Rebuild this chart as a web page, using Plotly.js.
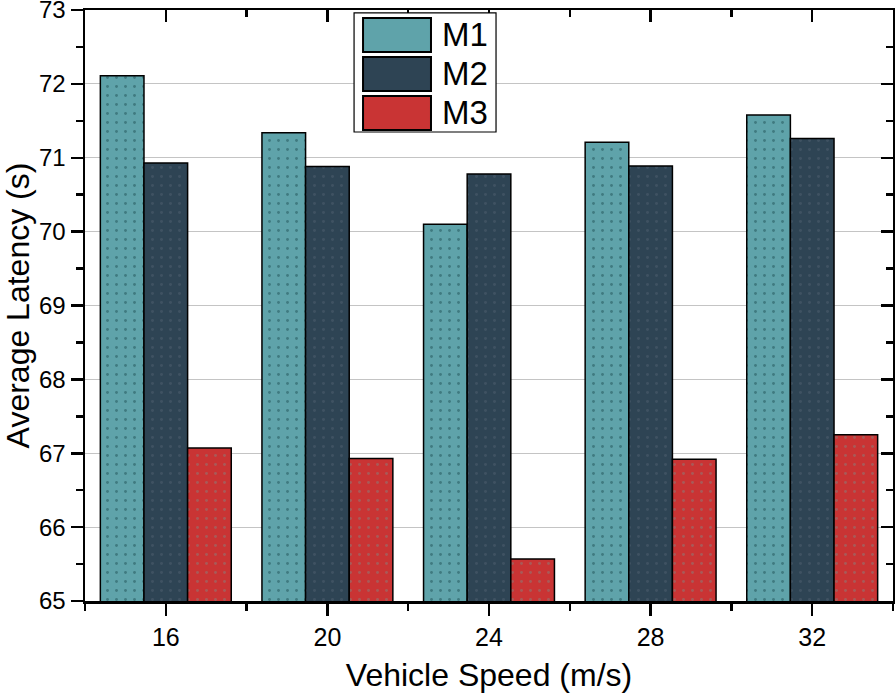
<!DOCTYPE html>
<html>
<head>
<meta charset="utf-8">
<script src="https://cdn.plot.ly/plotly-3.0.1.min.js"></script>
<style>html,body{margin:0;padding:0;background:#fff;} #chart{width:895px;height:697px;}</style>
</head>
<body>
<div id="chart"></div>
<script>
// Data
const speeds = [16, 20, 24, 28, 32];
const seriesNames = ['M1', 'M2', 'M3'];
const m1 = [72.11, 71.34, 70.10, 71.21, 71.58];
const m2 = [70.93, 70.88, 70.78, 70.89, 71.26];
const m3 = [67.07, 66.93, 65.57, 66.92, 67.25];
const xTitle = 'Vehicle Speed (m/s)';
const yTitle = 'Average Latency (s)';

const colors = ['#5fa3aa', '#2e4454', '#c93434'];
const dotColors = ['#3f7a80', '#3f5262', '#a85a58'];
const values = [m1, m2, m3];
const FONT = 'Liberation Sans, Arial, sans-serif';

const traces = values.map((v, i) => ({
  type: 'bar',
  x: speeds,
  y: v,
  name: seriesNames[i],
  marker: {
    color: colors[i],
    line: {color: '#000', width: 1.5},
    pattern: {shape: '.', fgcolor: dotColors[i], bgcolor: colors[i], size: 9, solidity: 0.08}
  },
  showlegend: false
}));
// empty trace to create the mirrored top/right axes
traces.push({type: 'scatter', x: [], y: [], xaxis: 'x2', yaxis: 'y2', showlegend: false, hoverinfo: 'skip'});

const xRange = [14, 34];
const yRange = [65, 73.0001];

// Custom legend (decoration) in paper coordinates
const shapes = [{type: 'rect', xref: 'paper', yref: 'paper', x0: 0.333, x1: 0.5087, y0: 0.7936, y1: 0.995,
  line: {color: '#000', width: 1.2}, fillcolor: '#fff', layer: 'above'}];
const annotations = [];
const rowTop = [0.9865, 0.9205, 0.8545];
const rowH = 0.0575;
seriesNames.forEach((n, i) => {
  shapes.push({type: 'rect', xref: 'paper', yref: 'paper', x0: 0.3441, x1: 0.4282,
    y0: rowTop[i] - rowH, y1: rowTop[i], fillcolor: colors[i], line: {color: '#000', width: 2}, layer: 'above'});
  annotations.push({xref: 'paper', yref: 'paper', x: 0.4390, y: rowTop[i] - rowH / 2, text: n,
    showarrow: false, xanchor: 'left', yanchor: 'middle', font: {family: FONT, size: 33, color: '#000'}});
});

const layout = {
  width: 895, height: 697,
  margin: {l: 85, r: 2, t: 10, b: 96},
  paper_bgcolor: '#fff', plot_bgcolor: '#fff',
  font: {family: FONT, color: '#000'},
  barmode: 'group',
  bargap: 0.19,
  bargroupgap: 0,
  showlegend: false,
  xaxis: {
    range: xRange, tickmode: 'linear', tick0: 16, dtick: 4,
    ticks: 'outside', ticklen: 12, tickwidth: 2.5, tickcolor: '#000',
    minor: {ticks: 'outside', tick0: 14, dtick: 2, ticklen: 7, tickwidth: 2.5, tickcolor: '#000', showgrid: false},
    showline: true, linecolor: '#000', linewidth: 2.5, showgrid: false, zeroline: false,
    tickfont: {family: FONT, size: 25, color: '#000'},
    title: {text: xTitle, font: {family: FONT, size: 32, color: '#000'}, standoff: 14}
  },
  yaxis: {
    range: yRange, tickmode: 'linear', tick0: 65, dtick: 1,
    ticks: 'outside', ticklen: 12, tickwidth: 2.5, tickcolor: '#000',
    minor: {ticks: 'outside', dtick: 0.5, ticklen: 7, tickwidth: 2.5, tickcolor: '#000', showgrid: false},
    showline: true, linecolor: '#000', linewidth: 2.5,
    showgrid: true, gridcolor: '#c4c4c4', gridwidth: 1, zeroline: false,
    ticklabeloverflow: 'allow',
    tickfont: {family: FONT, size: 24, color: '#000'},
    title: {text: yTitle, font: {family: FONT, size: 32, color: '#000'}, standoff: 12}
  },
  xaxis2: {
    overlaying: 'x', side: 'top', anchor: 'y2', range: xRange, tickmode: 'linear', tick0: 16, dtick: 4,
    ticks: 'inside', ticklen: 12, tickwidth: 2.5, tickcolor: '#000', showticklabels: false,
    minor: {ticks: 'inside', tick0: 14, dtick: 2, ticklen: 7, tickwidth: 2.5, tickcolor: '#000'},
    showline: true, linecolor: '#000', linewidth: 2.5, showgrid: false, zeroline: false
  },
  yaxis2: {
    overlaying: 'y', side: 'right', anchor: 'x2', range: yRange, tickmode: 'linear', tick0: 65, dtick: 1,
    ticks: 'inside', ticklen: 12, tickwidth: 2.5, tickcolor: '#000', showticklabels: false,
    minor: {ticks: 'inside', dtick: 0.5, ticklen: 7, tickwidth: 2.5, tickcolor: '#000'},
    showline: true, linecolor: '#000', linewidth: 2.5, showgrid: false, zeroline: false
  },
  shapes: shapes,
  annotations: annotations
};

Plotly.newPlot('chart', traces, layout, {staticPlot: true, displayModeBar: false});
</script>
</body>
</html>
